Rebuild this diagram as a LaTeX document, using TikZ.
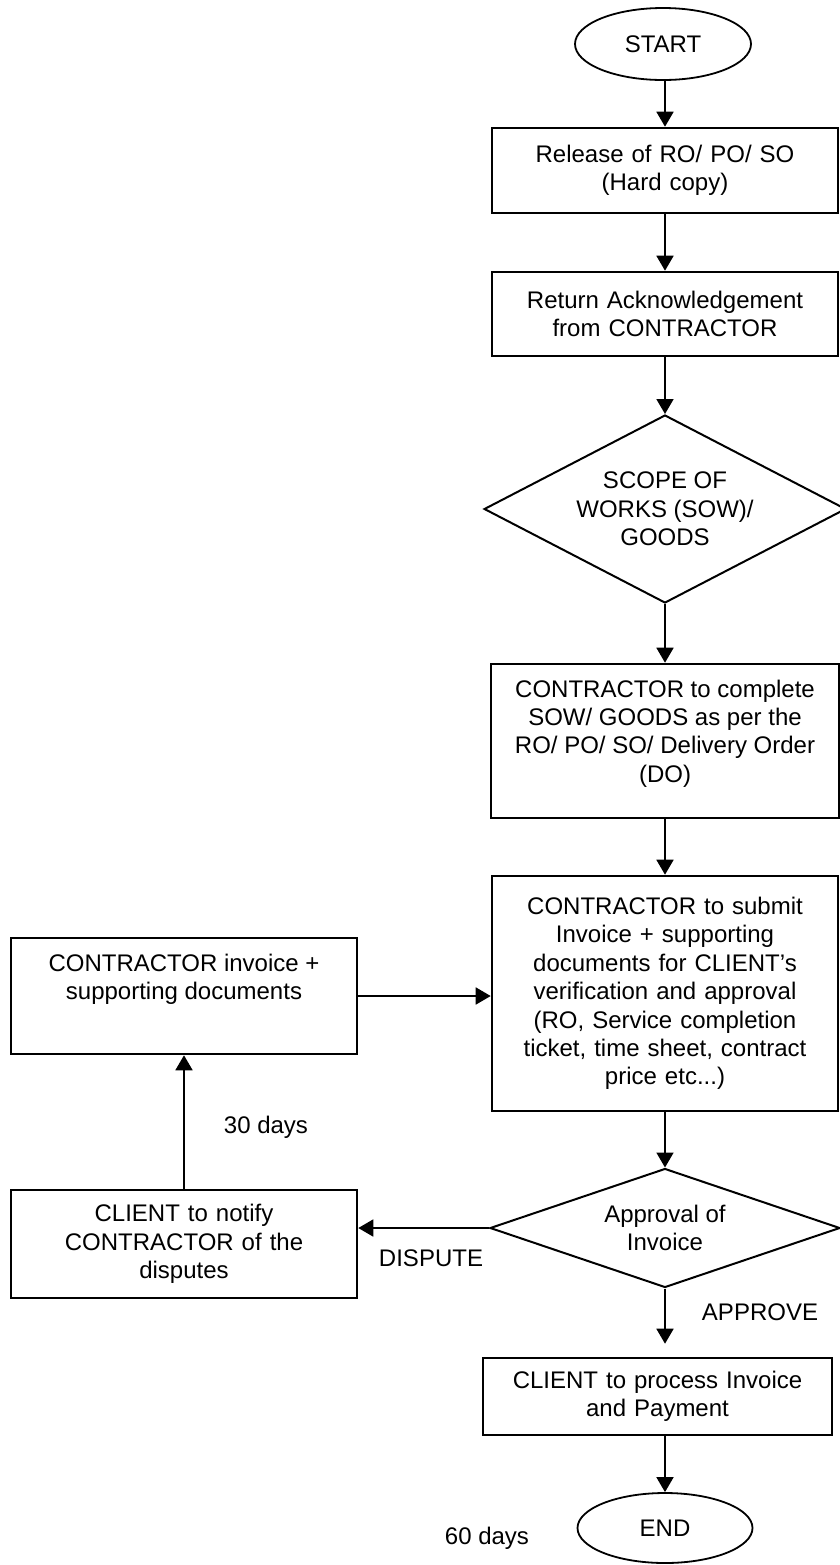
\documentclass[tikz,border=0pt]{standalone}
\usepackage{fontspec}
\setmainfont{Liberation Sans}
\usetikzlibrary{shapes.geometric,arrows.meta}
\tikzset{
  procbox/.style={draw, line width=1.3pt, rectangle, inner sep=0pt, align=center},
  decbox/.style={draw, line width=1pt, diamond, aspect=2.5, inner sep=0pt, align=center},
  termbox/.style={draw, line width=0.9pt, ellipse, inner sep=0pt},
  flow/.style={line width=0.9pt, -{Triangle[width=8.5pt,length=7.5pt]}},
}
\newcommand{\boxtop}[2]{\parbox[c][#1][t]{172pt}{\centering\vspace*{7.8pt}#2}}
\begin{document}
\begin{tikzpicture}[x=0.5pt,y=-0.5pt,font=\fontsize{12}{14.2}\selectfont]
\useasboundingbox (0,0) rectangle (840,1565);
\node[termbox, minimum width=88pt, minimum height=36pt] (start) at (663,44) {START};
\node[procbox, minimum width=173pt, minimum height=42.5pt, text width=170pt] (rel) at (665,170.5) {Release of RO/ PO/ SO\\(Hard copy)};
\node[procbox, minimum width=173pt, minimum height=42pt, text width=170pt] (ack) at (665,314) {Return Acknowledgement\\from CONTRACTOR};
\node[decbox, minimum width=178.5pt, minimum height=94pt] (scope) at (665,509) {SCOPE OF\\WORKS (SOW)/\\GOODS};
\node[procbox, minimum width=174pt, minimum height=77pt] (comp) at (665,741) {\boxtop{77pt}{CONTRACTOR to complete\\SOW/ GOODS as per the\\RO/ PO/ SO/ Delivery Order\\(DO)}};
\node[procbox, minimum width=173pt, minimum height=117.5pt, text width=170pt] (subm) at (665,993.5) {CONTRACTOR to submit\\Invoice + supporting\\documents for CLIENT’s\\verification and approval\\(RO, Service completion\\ticket, time sheet, contract\\price etc...)};
\node[procbox, minimum width=173pt, minimum height=58pt] (inv) at (184,996) {\boxtop{58pt}{CONTRACTOR invoice +\\supporting documents}};
\node[decbox, minimum width=175pt, minimum height=59.5pt] (appr) at (665,1228) {Approval of\\Invoice};
\node[procbox, minimum width=173pt, minimum height=54pt, text width=170pt] (notify) at (184,1244) {CLIENT to notify\\CONTRACTOR of the\\disputes};
\node[procbox, minimum width=174.5pt, minimum height=38.5pt, text width=172pt] (proc) at (657.5,1396.5) {CLIENT to process Invoice\\and Payment};
\node[termbox, minimum width=87.5pt, minimum height=35pt] (end) at (665,1528) {END};
\node (d30) at (266,1127) {30 days};
\node (disp) at (431,1258) {DISPUTE};
\node (appv) at (760,1312) {APPROVE};
\node (d60) at (487,1538) {60 days};
\draw[flow] (rel.north |- start.south) -- (rel);
\draw[flow] (rel) -- (ack);
\draw[flow] (ack) -- (scope);
\draw[flow] (scope) -- (comp);
\draw[flow] (comp) -- (subm);
\draw[flow] (subm) -- (appr);
\draw[flow] (appr.west) -- (appr.west -| notify.east);
\draw[flow] (notify) -- (inv);
\draw[flow] (inv.east) -- (inv.east -| subm.west);
\draw[flow, shorten >=6.5pt] (appr.south) -- (appr.south |- proc.north);
\draw[flow] (end |- proc.south) -- (end);
\end{tikzpicture}
\end{document}
